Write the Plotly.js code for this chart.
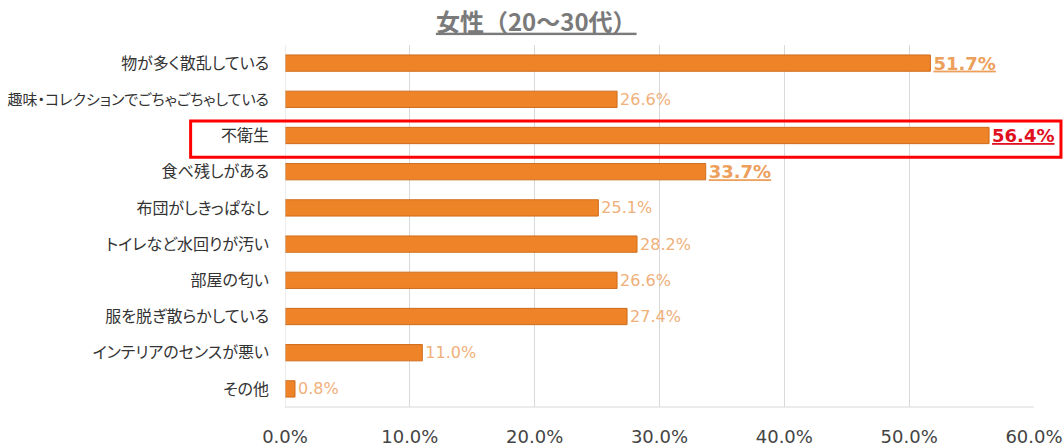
<!DOCTYPE html>
<html>
<head>
<meta charset="utf-8">
<script src="https://cdn.plot.ly/plotly-3.0.1.min.js"></script>
<style>
  html, body { margin: 0; padding: 0; background: #fff; }
  #myPlot { width: 1064px; height: 446px; }
  #myPlot .ytick text { font-feature-settings: "palt"; }
</style>
</head>
<body>
<div id="myPlot"></div>
<script>
// Data
const categories = ['物が多く散乱している', '趣味・コレクションでごちゃごちゃしている', '不衛生',
  '食べ残しがある', '布団がしきっぱなし', 'トイレなど水回りが汚い', '部屋の匂い',
  '服を脱ぎ散らかしている', 'インテリアのセンスが悪い', 'その他'];
const values = [51.7, 26.6, 56.4, 33.7, 25.1, 28.2, 26.6, 27.4, 11.0, 0.8];
// 0 = normal, 1 = bold underlined, 2 = red highlighted
const emphasis = [1, 0, 2, 1, 0, 0, 0, 0, 0, 0];
const tickVals = [0, 10, 20, 30, 40, 50, 60];
const tickText = ['0.0%', '10.0%', '20.0%', '30.0%', '40.0%', '50.0%', '60.0%'];
const highlightRow = 2;

const jp = '"Noto Sans CJK JP", "Noto Sans", sans-serif';
const num = '"DejaVu Sans", Verdana, sans-serif';

var labels = [], labelColors = [], labelSizes = [];
for (var i = 0; i < values.length; i++) {
  var s = values[i].toFixed(1) + '%';
  if (emphasis[i] == 0) {
    labels.push(s);
    labelColors.push('#F0B07A');
    labelSizes.push(16);
  } else {
    labels.push('<b><u>' + s + '</u></b>');
    labelColors.push(emphasis[i] == 2 ? '#E0101E' : '#EDA05C');
    labelSizes.push(18);
  }
}

// long category names get a slightly smaller font so they fit the margin
var catText = categories.map(function(c) {
  return c.length > 15 ? '<span style="font-size:15px">' + c + '</span>' : c;
});

var bars = {
  type: 'bar',
  orientation: 'h',
  x: values,
  y: categories,
  width: 0.45,
  marker: {color: '#EE8427', line: {color: '#CF6C1C', width: 1}},
  text: labels,
  textposition: 'outside',
  constraintext: 'none',
  cliponaxis: false,
  textfont: {family: num, color: labelColors, size: labelSizes},
  hoverinfo: 'none'
};

var layout = {
  width: 1064,
  height: 446,
  margin: {l: 285, r: 30, t: 45, b: 39},
  paper_bgcolor: '#fff',
  plot_bgcolor: '#fff',
  showlegend: false,
  title: {
    text: '<b><u>女性（20～30代）</u></b>',
    font: {family: jp, size: 24, color: '#7a7a7a'},
    x: 0.504, xref: 'container', xanchor: 'center',
    y: 0.95, yref: 'container', yanchor: 'middle'
  },
  xaxis: {
    range: [0, 60],
    tickvals: tickVals,
    ticktext: tickText,
    showgrid: true,
    gridcolor: '#d9d9d9',
    zeroline: false,
    showline: false,
    ticks: '',
    ticklabelstandoff: 17,
    tickfont: {family: num, size: 18, color: '#444'},
    fixedrange: true
  },
  yaxis: {
    type: 'category',
    autorange: 'reversed',
    tickvals: categories,
    ticktext: catText,
    showgrid: false,
    zeroline: false,
    showline: false,
    ticks: '',
    ticklabelstandoff: 15,
    tickfont: {family: jp, size: 16, color: '#333'},
    fixedrange: true
  },
  shapes: [
    // plot frame lines
    {type: 'line', xref: 'x', yref: 'paper', x0: 0, x1: 0, y0: 0, y1: 1, line: {color: '#d9d9d9', width: 1}},
    {type: 'line', xref: 'x', yref: 'paper', x0: 0, x1: 60, y0: 0, y1: 0, line: {color: '#d9d9d9', width: 1}},
    // red highlight box
    {type: 'rect', xref: 'paper', yref: 'y', x0: -0.126, x1: 1.036,
     y0: highlightRow - 0.4, y1: highlightRow + 0.6, line: {color: '#FF0000', width: 3}}
  ]
};

Plotly.newPlot('myPlot', [bars], layout, {displayModeBar: false, staticPlot: true});
</script>
</body>
</html>
